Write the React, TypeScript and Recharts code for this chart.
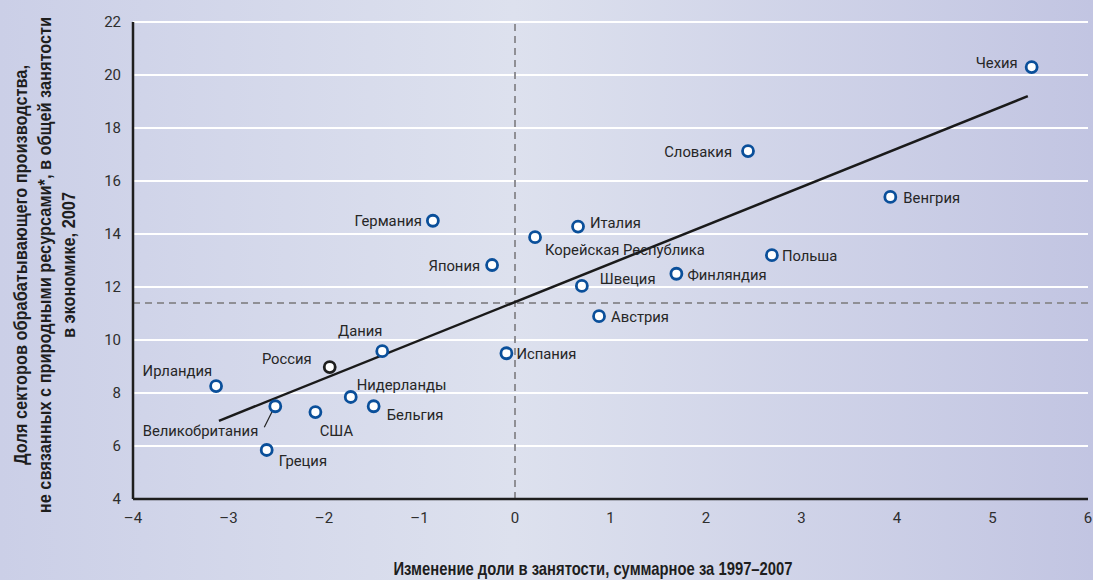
import { CartesianGrid, ReferenceLine, Scatter, ScatterChart, XAxis, YAxis } from "recharts";

const countries = [
  "Чехия", "Словакия", "Венгрия", "Польша", "Финляндия", "Швеция", "Австрия",
  "Испания", "Италия", "Корейская Республика", "Германия", "Япония", "Дания",
  "Россия", "Ирландия", "Великобритания", "США", "Нидерланды", "Бельгия", "Греция",
];
const employmentChange = [
  5.41, 2.44, 3.93, 2.69, 1.69, 0.7, 0.88,
  -0.09, 0.66, 0.21, -0.86, -0.24, -1.39,
  -1.94, -3.13, -2.51, -2.09, -1.72, -1.48, -2.6,
];
const manufacturingShare = [
  20.3, 17.13, 15.4, 13.2, 12.5, 12.04, 10.9,
  9.5, 14.28, 13.88, 14.5, 12.83, 9.58,
  8.98, 8.26, 7.5, 7.28, 7.85, 7.5, 5.85,
];
const trendX = [-3.1, 5.37];
const trendY = [6.95, 19.2];
const xTicks = [-4, -3, -2, -1, 0, 1, 2, 3, 4, 5, 6];
const yTicks = [4, 6, 8, 10, 12, 14, 16, 18, 20, 22];
const averageShare = 11.4;
const highlighted = "Россия";

// label offset from the marker: dx, dy, anchor
const labelPlacement: Record<string, [number, number, string]> = {
  "Чехия": [-14, -4, "end"],
  "Словакия": [-16, 1, "end"],
  "Венгрия": [13, 1, "start"],
  "Польша": [10, 1, "start"],
  "Финляндия": [11, 1, "start"],
  "Швеция": [18, -7, "start"],
  "Австрия": [12, 1, "start"],
  "Испания": [10, 1, "start"],
  "Италия": [12, -4, "start"],
  "Корейская Республика": [10, 13, "start"],
  "Германия": [-11, 0, "end"],
  "Япония": [-12, 1, "end"],
  "Дания": [-22, -20, "middle"],
  "Россия": [-18, -8, "end"],
  "Ирландия": [-4, -15, "end"],
  "Великобритания": [-17, 25, "end"],
  "США": [21, 19, "middle"],
  "Нидерланды": [6, -12, "start"],
  "Бельгия": [13, 9, "start"],
  "Греция": [12, 11, "start"],
};

const points = countries.map((name, i) => ({
  name,
  x: employmentChange[i],
  y: manufacturingShare[i],
}));
const trend = trendX.map((x, i) => ({ x, y: trendY[i] }));

const labelFont = "Roboto, 'Noto Sans', sans-serif";
const titleFont = "'Liberation Sans', Arial, sans-serif";

function CountryDot(props: any) {
  const { cx, cy, payload } = props;
  const [dx, dy, anchor] = labelPlacement[payload.name];
  const isRussia = payload.name === highlighted;
  return (
    <g>
      {payload.name === "Великобритания" && (
        <line x1={cx - 11} y1={cy + 21} x2={cx - 2} y2={cy + 3} stroke="#222" strokeWidth={1.2} />
      )}
      <circle
        cx={cx}
        cy={cy}
        r={5.5}
        fill="#fff"
        stroke={isRussia ? "#1e1e1e" : "#0a4f9a"}
        strokeWidth={2.8}
      />
      <text
        x={cx + dx}
        y={cy + dy}
        textAnchor={anchor as any}
        dominantBaseline="central"
        fontSize={14.8}
        fontFamily={labelFont}
        fill="#262626"
      >
        {payload.name}
      </text>
    </g>
  );
}

const fmt = (v: number) => (v < 0 ? `–${Math.abs(v)}` : `${v}`);

export default function App() {
  return (
    <div
      style={{
        position: "absolute",
        left: 0,
        top: 0,
        width: 1093,
        height: 580,
        background: "linear-gradient(to right, #cbcfe7 0%, #dde1ee 47%, #c2c5e2 100%)",
      }}
    >
      <ScatterChart width={1093} height={580} margin={{ top: 22, right: 5, bottom: 51, left: 73 }}>
        <CartesianGrid vertical={false} stroke="#ffffff" strokeWidth={2} />
        <XAxis
          type="number"
          dataKey="x"
          domain={[-4, 6]}
          ticks={xTicks}
          interval={0}
          height={30}
          tickFormatter={fmt}
          axisLine={{ stroke: "#1e1e1e", strokeWidth: 2.5 }}
          tickLine={false}
          tickSize={11}
          tickMargin={2}
          tick={{ fontSize: 15, fill: "#2e2e2e", fontFamily: labelFont }}
        />
        <YAxis
          type="number"
          dataKey="y"
          domain={[4, 22]}
          ticks={yTicks}
          interval={0}
          width={60}
          axisLine={{ stroke: "#1e1e1e", strokeWidth: 2.5 }}
          tickLine={false}
          tickSize={10}
          tickMargin={2}
          tick={{ fontSize: 15, fill: "#2e2e2e", fontFamily: labelFont }}
        />
        <ReferenceLine x={0} stroke="#8f8f95" strokeWidth={2} strokeDasharray="7 5" />
        <ReferenceLine y={averageShare} stroke="#8f8f95" strokeWidth={2} strokeDasharray="7 5" />
        <Scatter
          data={trend}
          line={{ stroke: "#1a1a1a", strokeWidth: 2.5 }}
          shape={() => <g />}
          isAnimationActive={false}
        />
        <Scatter data={points} shape={CountryDot} isAnimationActive={false} />
      </ScatterChart>
      <div
        style={{
          position: "absolute",
          left: 45,
          top: 265,
          transform: "translate(-50%, -50%) rotate(-90deg) scaleX(0.86)",
          whiteSpace: "nowrap",
          textAlign: "center",
          fontFamily: titleFont,
          fontWeight: "bold",
          fontSize: 19,
          lineHeight: "24px",
          color: "#1e1e1e",
        }}
      >
        Доля секторов обрабатывающего производства,
        <br />
        не связанных с природными ресурсами*, в общей занятости
        <br />
        в экономике, 2007
      </div>
      <div
        style={{
          position: "absolute",
          left: 593,
          top: 569,
          transform: "translate(-50%, -50%) scaleX(0.8)",
          whiteSpace: "nowrap",
          fontFamily: titleFont,
          fontWeight: "bold",
          fontSize: 18.5,
          color: "#1e1e1e",
        }}
      >
        Изменение доли в занятости, суммарное за 1997–2007
      </div>
    </div>
  );
}
